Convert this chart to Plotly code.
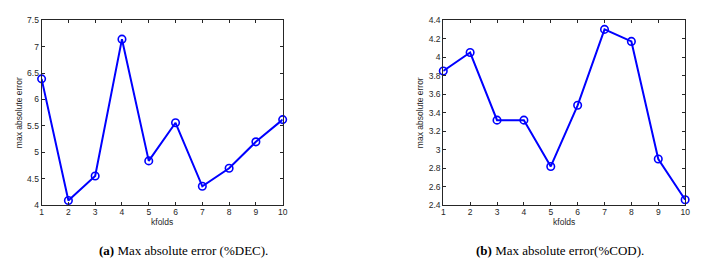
import plotly.graph_objects as go

kfolds = [1, 2, 3, 4, 5, 6, 7, 8, 9, 10]
dec_err = [6.39, 4.09, 4.555, 7.14, 4.84, 5.56, 4.36, 4.70, 5.20, 5.62]
cod_err = [3.85, 4.05, 3.32, 3.32, 2.82, 3.48, 4.30, 4.17, 2.90, 2.46]
dec_ticks = [4, 4.5, 5, 5.5, 6, 6.5, 7, 7.5]
cod_ticks = [2.4, 2.6, 2.8, 3, 3.2, 3.4, 3.6, 3.8, 4, 4.2, 4.4]
captions = ["<b>(a)</b> Max absolute error (%DEC).", "<b>(b)</b> Max absolute error(%COD)."]

W, H = 704, 271
blue = "#0000FF"
axcol = "#262626"
tickfont = dict(family="Liberation Sans, Arial, sans-serif", size=8.5, color=axcol)

fig = go.Figure()
for i, ys in enumerate([dec_err, cod_err]):
    fig.add_trace(go.Scatter(
        x=kfolds, y=ys, mode="lines+markers",
        line=dict(color=blue, width=2),
        marker=dict(symbol="circle-open", size=7.5, color=blue, line=dict(width=1.6, color=blue)),
        xaxis="x" if i == 0 else "x2", yaxis="y" if i == 0 else "y2",
        showlegend=False, cliponaxis=False,
    ))

common_x = dict(range=[1, 10], tickvals=kfolds, ticks="inside", ticklen=3, tickcolor=axcol,
                showline=True, linecolor=axcol, linewidth=1, mirror="allticks",
                showgrid=False, zeroline=False, tickfont=tickfont, ticklabelstandoff=-2,
                title=dict(text="kfolds", font=tickfont, standoff=2))
common_y = dict(ticks="inside", ticklen=3, tickcolor=axcol,
                showline=True, linecolor=axcol, linewidth=1, mirror="allticks",
                showgrid=False, zeroline=False, tickfont=tickfont,
                title=dict(text="max absolute error", font=tickfont, standoff=3))

ydom = [63 / H, 255.3 / H]
fig.update_layout(
    width=W, height=H, margin=dict(l=0, r=0, t=0, b=0),
    paper_bgcolor="white", plot_bgcolor="white",
    xaxis=dict(domain=[40 / W, 283.5 / W], anchor="y", **common_x),
    yaxis=dict(domain=ydom, anchor="x", range=[4, 7.5], tickvals=dec_ticks,
               ticktext=[f"{v:g}" for v in dec_ticks], **common_y),
    xaxis2=dict(domain=[445.7 / W, 690 / W], anchor="y2", **common_x),
    yaxis2=dict(domain=ydom, anchor="x2", range=[2.4, 4.4], tickvals=cod_ticks,
                ticktext=[f"{v:g}" for v in cod_ticks], **common_y),
)

cap_font = dict(family="Liberation Serif, Times New Roman, serif", size=13, color="black")
for cx, txt in zip([183.5 / W, 563.5 / W], captions):
    fig.add_annotation(x=cx, y=(H - 255) / H, xref="paper", yref="paper",
                       text=txt, showarrow=False, font=cap_font,
                       xanchor="center", yanchor="middle")

fig.write_html("out.html", config={"displayModeBar": False},
               post_script="document.body.style.margin='0';")
